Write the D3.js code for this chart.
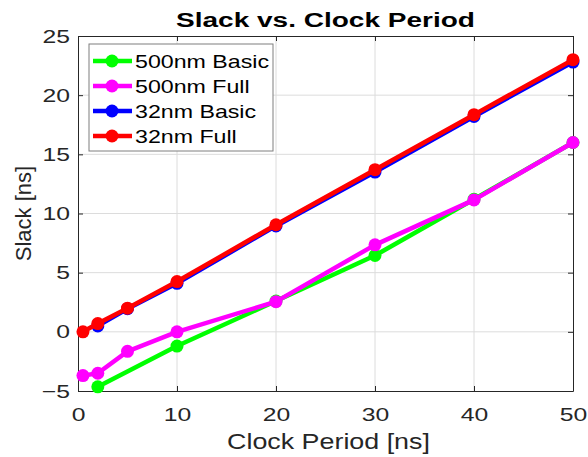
<!DOCTYPE html>
<html>
<head>
<meta charset="utf-8">
<script src="https://cdn.jsdelivr.net/npm/d3@7"></script>
<style>
  body { margin: 0; background: #fff; }
  text { font-family: "Liberation Sans", Arial, sans-serif; }
</style>
</head>
<body>
<div id="chart"></div>
<script>
// data
var seriesNames = ['500nm Basic', '500nm Full', '32nm Basic', '32nm Full'];
var seriesColors = ['#00ff00', '#ff00ff', '#0000ff', '#ff0000'];
var periodsBasic = [2, 10, 20, 30, 40, 50];
var periodsBasic32 = [2, 5, 10, 20, 30, 40, 50];
var periodsFull = [0.5, 2, 5, 10, 20, 30, 40, 50];
var slack500Basic = [-4.65, -1.2, 2.6, 6.45, 11.2, 16.0];
var slack500Full = [-3.7, -3.5, -1.65, 0, 2.55, 7.35, 11.15, 16.0];
var slack32Basic = [0.5, 1.95, 4.1, 8.95, 13.5, 18.2, 22.8];
var slack32Full = [0, 0.7, 2.0, 4.25, 9.05, 13.7, 18.35, 23.0];
var xTicks = [0, 10, 20, 30, 40, 50];
var yTicks = [-5, 0, 5, 10, 15, 20, 25];

var series = [
    { name: seriesNames[0], color: seriesColors[0], x: periodsBasic, y: slack500Basic },
    { name: seriesNames[1], color: seriesColors[1], x: periodsFull, y: slack500Full },
    { name: seriesNames[2], color: seriesColors[2], x: periodsBasic32, y: slack32Basic },
    { name: seriesNames[3], color: seriesColors[3], x: periodsFull, y: slack32Full }
];

var width = 588, height = 457;
var plotLeft = 78, plotRight = 573, plotTop = 36, plotBottom = 391;
var axisColor = '#262626';

var svg = d3.select('#chart').append('svg')
    .attr('width', width).attr('height', height);

var x = d3.scaleLinear().domain([0, 50]).range([plotLeft, plotRight]);
var y = d3.scaleLinear().domain([-5, 25]).range([plotBottom, plotTop]);

// the reference text looks widened, so stretch glyphs horizontally
function stretch(sel, k) {
    sel.each(function() {
        var len = this.getComputedTextLength();
        d3.select(this).attr('textLength', len * k).attr('lengthAdjust', 'spacingAndGlyphs');
    });
}

// grid
var grid = svg.append('g');
grid.selectAll('.gx').data(xTicks.slice(1, -1)).enter().append('line')
    .attr('x1', function(d) { return x(d); }).attr('x2', function(d) { return x(d); })
    .attr('y1', plotTop).attr('y2', plotBottom)
    .attr('stroke', '#dcdcdc').attr('stroke-width', 1);
grid.selectAll('.gy').data(yTicks.slice(1, -1)).enter().append('line')
    .attr('y1', function(d) { return y(d); }).attr('y2', function(d) { return y(d); })
    .attr('x1', plotLeft).attr('x2', plotRight)
    .attr('stroke', '#dcdcdc').attr('stroke-width', 1);

// axes with inward ticks
function styleAxis(g) {
    g.selectAll('path').attr('stroke', axisColor);
    g.selectAll('line').attr('stroke', axisColor);
    g.selectAll('text').attr('fill', axisColor).style('font-size', '19px').call(stretch, 1.3);
}
svg.append('g').attr('transform', 'translate(0,' + plotBottom + ')')
    .call(d3.axisBottom(x).tickValues(xTicks).tickSizeInner(-5).tickSizeOuter(0).tickPadding(17))
    .call(styleAxis);
svg.append('g').attr('transform', 'translate(0,' + plotTop + ')')
    .call(d3.axisTop(x).tickValues(xTicks).tickSizeInner(-5).tickSizeOuter(0).tickFormat(''))
    .call(styleAxis);
svg.append('g').attr('transform', 'translate(' + plotLeft + ',0)')
    .call(d3.axisLeft(y).tickValues(yTicks).tickSizeInner(-5).tickSizeOuter(0).tickPadding(8))
    .call(styleAxis);
svg.append('g').attr('transform', 'translate(' + plotRight + ',0)')
    .call(d3.axisRight(y).tickValues(yTicks).tickSizeInner(-5).tickSizeOuter(0).tickFormat(''))
    .call(styleAxis);

// lines and markers
var line = d3.line()
    .x(function(d) { return x(d[0]); })
    .y(function(d) { return y(d[1]); });

series.forEach(function(s) {
    var pts = s.x.map(function(v, i) { return [v, s.y[i]]; });
    svg.append('path').datum(pts)
        .attr('d', line)
        .attr('fill', 'none')
        .attr('stroke', s.color)
        .attr('stroke-width', 4.5)
        .attr('stroke-linejoin', 'round');
    svg.selectAll(null).data(pts).enter().append('circle')
        .attr('cx', function(d) { return x(d[0]); })
        .attr('cy', function(d) { return y(d[1]); })
        .attr('r', 6.5)
        .attr('fill', s.color);
});

// title and labels
svg.append('text')
    .attr('x', (plotLeft + plotRight) / 2).attr('y', 27)
    .attr('text-anchor', 'middle')
    .style('font-size', '20px').style('font-weight', 'bold')
    .attr('fill', '#000')
    .text('Slack vs. Clock Period')
    .call(stretch, 1.4);

svg.append('text')
    .attr('x', (plotLeft + plotRight) / 2 + 3).attr('y', 449)
    .attr('text-anchor', 'middle')
    .style('font-size', '22px')
    .attr('fill', axisColor)
    .text('Clock Period [ns]')
    .call(stretch, 1.22);

svg.append('text')
    .attr('transform', 'translate(31,' + ((plotTop + plotBottom) / 2) + ') rotate(-90)')
    .attr('text-anchor', 'middle')
    .style('font-size', '22px')
    .attr('fill', axisColor)
    .text('Slack [ns]');

// legend
var legend = svg.append('g');
legend.append('rect')
    .attr('x', 89).attr('y', 44).attr('width', 184).attr('height', 107)
    .attr('fill', '#fff').attr('stroke', '#7f7f7f').attr('stroke-width', 1);
var legendY = [61, 86, 111, 136];
series.forEach(function(s, i) {
    var g = legend.append('g').attr('transform', 'translate(0,' + legendY[i] + ')');
    g.append('line').attr('x1', 93).attr('x2', 132).attr('y1', 0).attr('y2', 0)
        .attr('stroke', s.color).attr('stroke-width', 4.5);
    g.append('circle').attr('cx', 112).attr('cy', 0).attr('r', 6.5).attr('fill', s.color);
    g.append('text').attr('x', 135).attr('y', 7)
        .style('font-size', '19px').attr('fill', '#000')
        .text(s.name)
        .call(stretch, 1.22);
});
</script>
</body>
</html>
